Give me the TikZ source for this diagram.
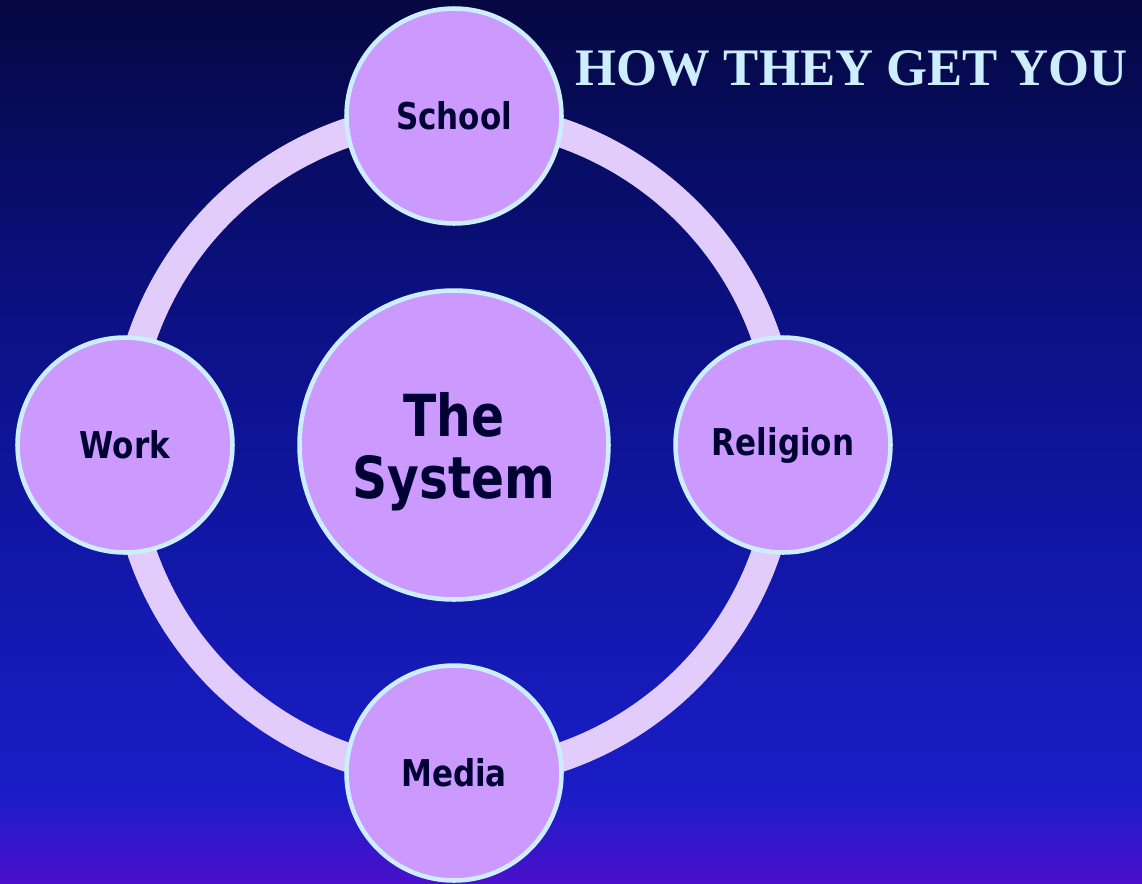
\documentclass[tikz,border=0pt]{standalone}
\usepackage{fontspec}
\newfontfamily\labelfont[FakeStretch=0.84]{DejaVu Sans}
\newfontfamily\titlefont{Liberation Serif}
\usetikzlibrary{positioning}

\definecolor{bgtop}{HTML}{050840}
\definecolor{bgupper}{HTML}{0A0F78}
\definecolor{bgmid}{HTML}{1016A2}
\definecolor{bglow}{HTML}{1A1DC6}
\definecolor{bgbot}{HTML}{4A10CC}
\definecolor{disc}{HTML}{CC99FF}
\definecolor{rim}{HTML}{CCEEFF}
\definecolor{band}{HTML}{E2CCFC}
\definecolor{ink}{HTML}{000033}

\begin{document}
\begin{tikzpicture}[
  x=0.02cm, y=-0.02cm, line cap=round,
  topic/.style={circle, minimum size=4.3cm, inner sep=0pt, draw=rim, line width=2.6pt,
    fill=disc, text=ink, font=\labelfont\bfseries\fontsize{21}{24}\selectfont},
  core/.style={topic, minimum size=6.18cm, align=center, text depth=0pt,
    font=\labelfont\bfseries\fontsize{33}{35.3}\selectfont},
  ring/.style={draw=band, line width=0.58cm},
  headline/.style={anchor=base, text=rim, font=\titlefont\bfseries\fontsize{30}{32}\selectfont}
]
\useasboundingbox (0,0) rectangle (1142,883);

% background
\shade[top color=bgtop, bottom color=bgupper] (0,0) rectangle (1142,251);
\shade[top color=bgupper, bottom color=bgmid] (0,250) rectangle (1142,521);
\shade[top color=bgmid, bottom color=bglow] (0,520) rectangle (1142,791);
\shade[top color=bglow, bottom color=bgbot] (0,790) rectangle (1142,883);

\coordinate (hub) at (454,445);
\draw[ring] (hub) circle[radius=6.6cm];

\node[core] (sys) at (hub) {The\\System};
  \node[topic] (school) at (454,116) {School};
  \node[topic] (religion) at (783,445) {Religion};
  \node[topic] (media) at (454,773) {Media};
  \node[topic] (work) at (125,445) {Work};

\node[headline] (head) at (852,85) {HOW THEY GET YOU};
\end{tikzpicture}
\end{document}
